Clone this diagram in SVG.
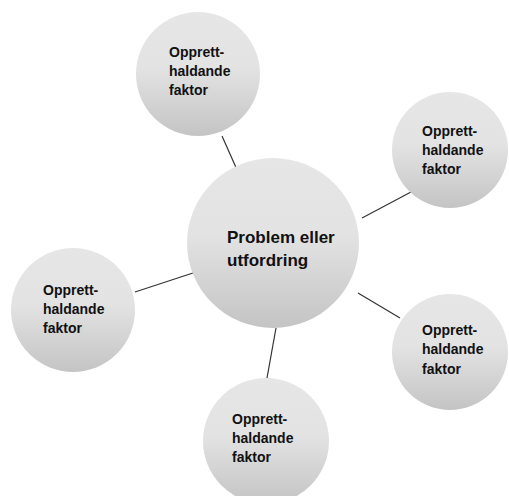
<svg xmlns="http://www.w3.org/2000/svg" width="509" height="496" viewBox="0 0 509 496">
<defs>
<linearGradient id="g" x1="0" y1="0" x2="0" y2="1">
<stop offset="0" stop-color="#e6e6e6"/>
<stop offset="0.45" stop-color="#e3e3e3"/>
<stop offset="1" stop-color="#c4c4c4"/>
</linearGradient>
<style>
.c{fill:url(#g);stroke:none}
.t{font-family:"Liberation Sans",Arial,sans-serif;font-weight:bold;font-size:14px;fill:#111}
.tb{font-family:"Liberation Sans",Arial,sans-serif;font-weight:bold;font-size:17px;fill:#111}
.l{stroke:#333;stroke-width:1.2;fill:none}
</style>
</defs>
<rect width="509" height="496" fill="#fff"/>
<g id="connectors">
<line class="l" x1="222" y1="136" x2="238" y2="172"/>
<line class="l" x1="362" y1="218" x2="411" y2="192"/>
<line class="l" x1="135" y1="292" x2="196" y2="272"/>
<line class="l" x1="358" y1="293" x2="400" y2="318"/>
<line class="l" x1="276" y1="328" x2="267" y2="378"/>
</g>
<g id="center">
<ellipse class="c" cx="273" cy="243" rx="86" ry="85"/>
<text class="tb" x="227" y="243">Problem eller</text>
<text class="tb" x="227" y="266">utfordring</text>
</g>
<g id="top">
<circle class="c" cx="198" cy="74" r="62"/>
<text class="t" x="169" y="57">Opprett-</text>
<text class="t" x="169" y="76">haldande</text>
<text class="t" x="169" y="95">faktor</text>
</g>
<g id="rightTop">
<circle class="c" cx="450" cy="150" r="58"/>
<text class="t" x="422" y="136">Opprett-</text>
<text class="t" x="422" y="155">haldande</text>
<text class="t" x="422" y="174">faktor</text>
</g>
<g id="left">
<circle class="c" cx="73" cy="310" r="62"/>
<text class="t" x="43" y="295">Opprett-</text>
<text class="t" x="43" y="314">haldande</text>
<text class="t" x="43" y="333">faktor</text>
</g>
<g id="rightBottom">
<circle class="c" cx="450" cy="352" r="58"/>
<text class="t" x="422" y="335">Opprett-</text>
<text class="t" x="422" y="354">haldande</text>
<text class="t" x="422" y="374">faktor</text>
</g>
<g id="bottom">
<circle class="c" cx="266" cy="441" r="63"/>
<text class="t" x="232" y="424">Opprett-</text>
<text class="t" x="232" y="443">haldande</text>
<text class="t" x="232" y="462">faktor</text>
</g>
</svg>
